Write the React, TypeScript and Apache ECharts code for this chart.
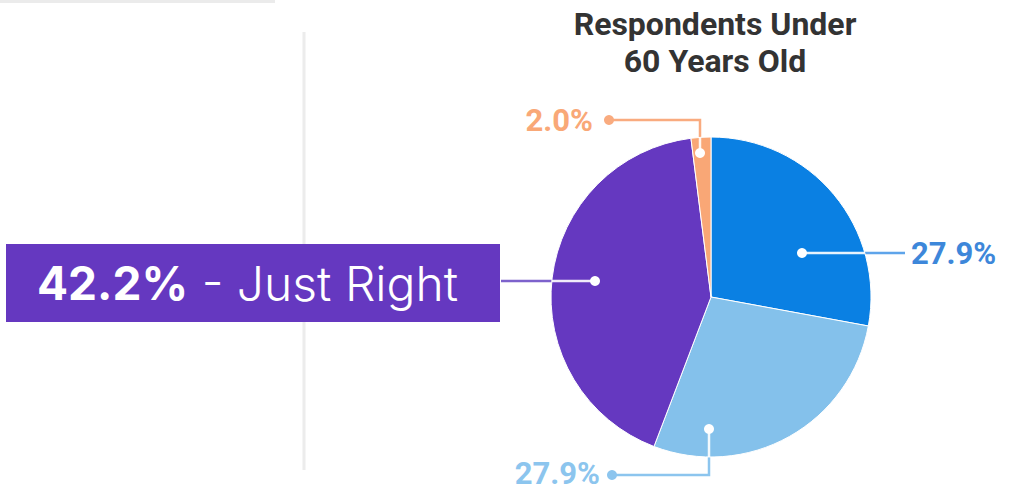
import React, { useEffect, useRef } from "react";
import * as echarts from "echarts";

const TITLE_LINES = ["Respondents Under", "60 Years Old"];
const CATEGORIES = ["Segment A", "Segment B", "Just Right", "Segment C"];
const VALUES = [27.9, 27.9, 42.2, 2.0];
const SLICE_COLORS = ["#0a80e3", "#84c1eb", "#6538c0", "#f9a776"];
const LABEL_COLORS = ["#3d87da", "#8cc5ee", "#ffffff", "#f9a877"];
const LINE_COLORS = ["#5ea4ea", "#8cc5ee", "#7d62cc", "#f9ab7f"];

// label line routes (layout): [dot inside slice, bend, end]
const LINE_ROUTES: number[][][] = [
  [[802, 253], [860, 253], [905, 253]],
  [[709, 429], [709, 475], [612, 475]],
  [[595, 281], [550, 281], [501, 281]],
  [[700, 153], [700, 120], [609, 120]],
];
const LABEL_POS: { x: number; y: number; align: string }[] = [
  { x: 911, y: 253, align: "left" },
  { x: 600, y: 473, align: "right" },
  { x: 6, y: 283, align: "left" },
  { x: 593, y: 120, align: "right" },
];
const CENTER = [711, 297];
const RADIUS = 160;

export default function App() {
  const ref = useRef<HTMLDivElement>(null);
  useEffect(() => {
    if (!ref.current) return;
    const chart = echarts.init(ref.current, null, { renderer: "svg" });

    const graphics: any[] = [];
    LINE_ROUTES.forEach((route, i) => {
      const [p0, p1] = route;
      const dx = p1[0] - p0[0];
      const dy = p1[1] - p0[1];
      const len = Math.hypot(dx, dy);
      const ux = dx / len, uy = dy / len;
      const fx = p0[0] - CENTER[0], fy = p0[1] - CENTER[1];
      const b = fx * ux + fy * uy;
      const c = fx * fx + fy * fy - RADIUS * RADIUS;
      const t = -b + Math.sqrt(b * b - c);
      graphics.push({
        type: "line",
        z: 100,
        shape: { x1: p0[0], y1: p0[1], x2: p0[0] + ux * t, y2: p0[1] + uy * t },
        style: { stroke: "#ffffff", lineWidth: 2.5, opacity: 0.9 },
      });
      graphics.push({
        type: "circle",
        z: 101,
        shape: { cx: p0[0], cy: p0[1], r: 5 },
        style: { fill: "#ffffff" },
      });
      if (i === 1 || i === 3) {
        const end = route[2];
        graphics.push({
          type: "circle",
          z: 101,
          shape: { cx: end[0], cy: end[1], r: 5 },
          style: { fill: LINE_COLORS[i] },
        });
      }
    });

    graphics.push({
      type: "rect",
      z: 0,
      shape: { x: 0, y: 0, width: 275, height: 3 },
      style: { fill: "#ebebeb" },
    });
    graphics.push({
      type: "rect",
      z: 0,
      shape: { x: 302.5, y: 32, width: 3, height: 438 },
      style: { fill: "#ececec" },
    });

    chart.setOption({
      animation: false,
      title: {
        text: TITLE_LINES.join("\n"),
        left: 710,
        top: 0,
        textAlign: "center",
        textStyle: {
          fontFamily: "Roboto",
          fontWeight: "bold",
          fontSize: 32,
          lineHeight: 37,
          color: "#333333",
        },
      },
      graphic: graphics,
      series: [
        {
          type: "pie",
          center: CENTER,
          radius: RADIUS,
          startAngle: 90,
          clockwise: true,
          itemStyle: { borderColor: "#ffffff", borderWidth: 1 },
          emphasis: { disabled: true },
          data: CATEGORIES.map((name, i) => ({
            name,
            value: VALUES[i],
            itemStyle: { color: SLICE_COLORS[i] },
            label:
              i === 2
                ? {
                    formatter: (p: any) =>
                      `{v|${p.value.toFixed(1)}%}{t| - ${p.name}}`,
                    backgroundColor: "#6538c0",
                    width: 463,
                    height: 78,
                    padding: [0, 0, 0, 31],
                    rich: {
                      v: {
                        fontFamily: "Inter",
                        fontWeight: "bold",
                        fontSize: 46,
                        color: "#ffffff",
                        lineHeight: 78,
                      },
                      t: {
                        fontFamily: "Inter",
                        fontWeight: 300,
                        fontSize: 48,
                        color: "#ffffff",
                        lineHeight: 78,
                      },
                    },
                  }
                : {
                    formatter: (p: any) => `${p.value.toFixed(1)}%`,
                    color: LABEL_COLORS[i],
                    fontFamily: "Roboto",
                    fontWeight: "bold",
                    fontSize: 31,
                    lineHeight: 31,
                  },
            labelLine: {
              lineStyle: { color: LINE_COLORS[i], width: 2.5 },
            },
          })),
          label: { show: true },
          labelLine: { show: true, length: 10, length2: 10 },
          labelLayout: (params: any) => {
            const i = params.dataIndex;
            return {
              x: LABEL_POS[i].x,
              y: LABEL_POS[i].y,
              align: LABEL_POS[i].align,
              verticalAlign: "middle",
              labelLinePoints: LINE_ROUTES[i],
            };
          },
        },
      ],
    });
    return () => chart.dispose();
  }, []);
  return (
    <div
      ref={ref}
      style={{ position: "fixed", left: 0, top: 0, width: 1012, height: 491, background: "#ffffff" }}
    />
  );
}
